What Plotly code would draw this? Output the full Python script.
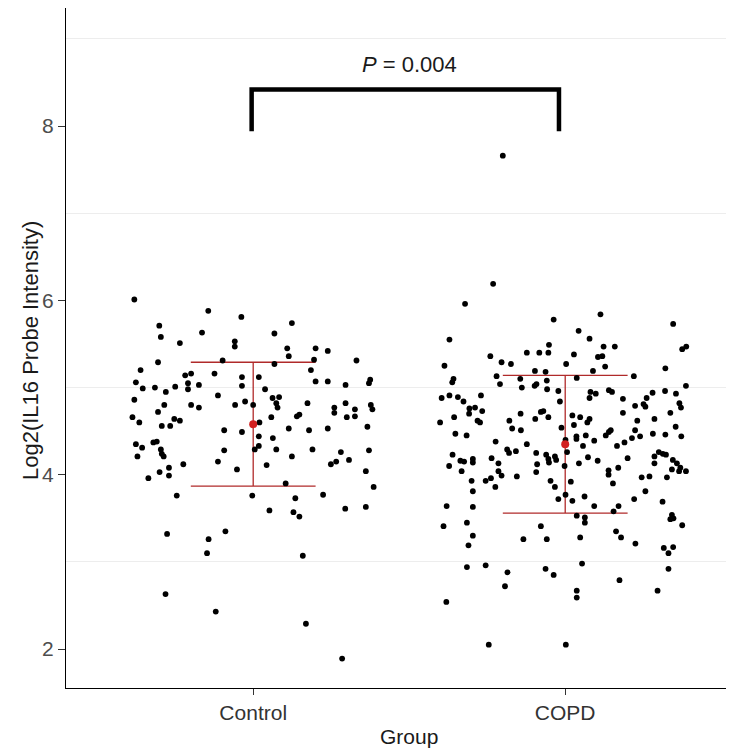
import plotly.graph_objects as go

# ---------------- data ----------------
groups = ["Control", "COPD"]

control_jitter = [-0.381,-0.144,-0.038,0.124,-0.301,0.068,-0.164,-0.296,-0.235,-0.059,
                  -0.059,0.109,0.200,0.239,0.114,0.331,-0.305,-0.098,0.195,0.068,
                  0.185,-0.361,-0.218,-0.199,-0.124,-0.036,0.018,0.200,0.239,0.375,
                  0.371,0.296,-0.376,-0.354,-0.315,-0.250,-0.209,-0.209,-0.174,-0.036,
                  0.038,-0.280,-0.113,-0.381,-0.026,-0.058,0.000,0.062,0.083,0.074,
                  0.078,0.174,0.296,0.377,0.382,-0.285,-0.199,-0.174,-0.305,0.260,
                  0.260,0.326,0.326,0.300,-0.387,-0.365,-0.253,-0.235,-0.293,-0.266,
                  0.140,0.148,0.058,0.020,0.366,-0.093,-0.036,0.114,0.179,0.239,
                  0.018,0.063,-0.376,-0.356,-0.320,-0.309,-0.296,-0.293,-0.287,-0.371,
                  -0.093,0.018,0.005,0.074,0.190,0.124,0.281,0.249,0.266,0.307,
                  0.371,-0.113,-0.052,0.043,-0.224,-0.270,-0.300,-0.270,-0.336,0.361,
                  0.386,0.104,-0.245,-0.003,0.135,0.224,0.052,0.129,0.148,0.295,
                  0.361,-0.276,-0.143,-0.089,-0.148,0.159,-0.281,-0.120,0.169,0.285]
control_values = [6.01,5.88,5.81,5.74,5.71,5.62,5.63,5.58,5.51,5.53,
                  5.47,5.45,5.45,5.42,5.36,5.31,5.29,5.31,5.32,5.27,
                  5.20,5.20,5.14,5.16,5.16,5.12,5.12,5.07,5.07,5.09,
                  5.05,5.03,5.06,4.99,5.00,5.01,5.05,4.98,5.03,5.02,
                  4.98,4.95,4.91,4.86,4.84,4.80,4.80,4.88,4.89,4.82,
                  4.77,4.82,4.82,4.80,4.75,4.80,4.80,4.77,4.72,4.77,
                  4.71,4.75,4.67,4.66,4.66,4.60,4.64,4.62,4.56,4.56,
                  4.67,4.69,4.66,4.60,4.55,4.51,4.49,4.53,4.51,4.53,
                  4.44,4.42,4.35,4.31,4.37,4.38,4.29,4.24,4.21,4.21,
                  4.28,4.33,4.29,4.29,4.29,4.21,4.26,4.12,4.15,4.17,
                  4.28,4.15,4.06,4.11,4.12,4.08,4.03,3.99,3.96,4.04,
                  3.86,3.90,3.76,3.76,3.73,3.77,3.59,3.57,3.52,3.61,
                  3.63,3.32,3.26,3.35,3.10,3.07,2.63,2.43,2.29,1.89]

copd_jitter = [-0.200,-0.231,-0.321,-0.037,0.113,0.346,0.043,0.078,-0.371,-0.052,
               0.123,0.159,0.375,0.388,-0.123,-0.083,-0.054,-0.240,-0.204,-0.174,
               -0.387,0.003,0.028,0.105,0.119,0.128,0.321,-0.097,-0.063,0.089,
               -0.358,-0.362,-0.220,-0.144,-0.059,0.037,0.220,-0.209,-0.139,-0.098,
               -0.092,-0.058,-0.022,-0.017,0.387,0.355,0.320,0.280,0.261,0.366,
               0.371,0.185,0.140,0.150,0.081,0.098,0.078,-0.396,-0.371,-0.344,
               -0.326,-0.270,-0.307,-0.289,-0.401,-0.356,-0.308,-0.266,-0.281,-0.273,
               -0.352,-0.316,-0.223,-0.179,-0.170,-0.142,-0.143,-0.096,-0.078,-0.070,
               -0.054,-0.123,-0.186,-0.180,-0.158,-0.012,0.001,0.023,0.048,0.078,
               0.071,0.028,0.036,0.036,0.066,0.057,0.093,0.006,-0.093,-0.061,
               -0.054,-0.033,-0.029,-0.052,-0.090,-0.093,-0.155,-0.002,0.073,0.104,
               0.044,-0.361,-0.372,-0.336,-0.324,-0.296,-0.296,-0.332,-0.236,-0.214,
               -0.214,-0.204,-0.255,-0.238,-0.300,-0.224,-0.296,-0.047,-0.033,0.018,
               0.001,-0.022,0.023,0.062,0.093,0.037,0.063,0.063,-0.078,0.155,
               0.171,0.221,0.257,0.312,0.342,0.347,0.337,0.375,-0.380,-0.296,
               -0.315,-0.390,0.139,0.139,0.153,0.170,0.200,0.166,0.190,0.130,
               0.140,0.146,0.214,0.240,0.224,0.231,0.185,0.224,0.251,0.257,
               0.286,0.281,0.321,0.354,0.372,0.337,0.300,0.313,0.323,0.286,
               0.286,0.345,0.358,0.342,0.369,0.387,0.365,0.326,0.270,0.245,
               -0.296,-0.310,-0.134,-0.059,0.048,0.163,0.179,0.225,0.316,0.346,
               0.331,-0.315,-0.255,-0.185,-0.193,-0.063,-0.037,0.054,0.174,0.331,
               0.296,0.037,0.037,-0.381,-0.245,0.002]
copd_values = [7.66,6.19,5.96,5.78,5.84,5.73,5.65,5.56,5.55,5.49,
               5.47,5.47,5.44,5.47,5.40,5.40,5.40,5.36,5.29,5.27,
               5.25,5.27,5.38,5.35,5.36,5.24,5.22,5.19,5.18,5.19,
               5.10,5.06,5.13,5.10,5.08,5.11,5.13,5.04,5.00,5.02,
               5.04,4.98,4.96,4.84,5.02,4.93,4.96,4.94,4.88,4.82,
               4.77,4.87,4.97,4.95,4.95,4.93,4.88,4.88,4.91,4.89,
               4.84,4.91,4.76,4.77,4.60,4.66,4.70,4.73,4.62,4.60,
               4.47,4.45,4.38,4.62,4.53,4.51,4.70,4.64,4.72,4.73,
               4.66,4.35,4.29,4.25,4.27,4.54,4.40,4.68,4.66,4.64,
               4.60,4.57,4.44,4.41,4.45,4.33,4.39,4.26,4.25,4.23,
               4.18,4.21,4.17,4.14,4.12,4.03,3.98,4.10,4.20,4.16,
               4.13,4.23,4.10,4.16,4.15,4.18,4.14,4.04,4.19,4.13,
               4.04,3.99,3.93,3.96,3.93,3.86,3.81,3.93,3.86,3.92,
               3.77,3.72,3.70,3.75,3.64,3.53,3.51,3.45,3.41,3.58,
               3.64,3.72,3.81,3.69,3.54,3.50,3.49,3.42,3.64,3.63,
               3.45,3.41,4.05,4.00,3.90,4.08,4.19,4.33,4.37,4.45,
               4.49,4.51,4.42,4.44,4.51,4.62,4.71,4.79,4.81,4.78,
               4.64,4.47,4.46,4.55,4.44,4.71,4.26,4.24,4.23,4.21,
               4.13,4.17,4.13,4.06,4.08,4.04,4.04,3.97,3.98,3.97,
               3.30,3.19,3.26,3.26,3.28,3.35,3.28,3.21,3.16,3.17,
               3.10,2.94,2.96,2.88,2.72,2.92,2.85,2.98,2.79,2.92,
               2.67,2.67,2.59,2.54,2.05,2.05]

group_means = [4.58, 4.35]
group_sds = [0.71, 0.79]

p_label = "<i>P</i> = 0.004"
bracket_x = [0.995, 1.98]
bracket_y = [7.94, 8.42]

y_ticks = [2, 4, 6, 8]
y_minor = [3, 5, 7, 9]
y_range = [1.553, 9.354]
x_range = [0.4, 2.541]

FONT = "Liberation Sans, Arial, sans-serif"

# ---------------- figure ----------------
fig = go.Figure()

cap = 0.2
ex, ey = [], []
for i, (m, s) in enumerate(zip(group_means, group_sds)):
    g = i + 1
    ex += [g - cap, g + cap, None, g, g, None, g - cap, g + cap, None]
    ey += [m + s, m + s, None, m - s, m + s, None, m - s, m - s, None]
fig.add_trace(go.Scatter(x=ex, y=ey, mode="lines",
                         line=dict(color="#b02a2a", width=1.3),
                         hoverinfo="skip", showlegend=False))

fig.add_trace(go.Scatter(x=[1 + d for d in control_jitter], y=control_values,
                         mode="markers", marker=dict(color="black", size=5.8),
                         showlegend=False))
fig.add_trace(go.Scatter(x=[2 + d for d in copd_jitter], y=copd_values,
                         mode="markers", marker=dict(color="black", size=5.8),
                         showlegend=False))

fig.add_trace(go.Scatter(x=[1, 2], y=group_means, mode="markers",
                         marker=dict(color="#d21f1f", size=8),
                         showlegend=False))

# significance bracket
fig.add_trace(go.Scatter(x=[bracket_x[0], bracket_x[0], bracket_x[1], bracket_x[1]],
                         y=[bracket_y[0], bracket_y[1], bracket_y[1], bracket_y[0]],
                         mode="lines", line=dict(color="black", width=4.5),
                         hoverinfo="skip", showlegend=False))
fig.add_annotation(x=1.5, y=8.71, text=p_label, showarrow=False,
                   font=dict(size=22, color="#1a1a1a", family=FONT),
                   xanchor="center", yanchor="middle")

# axis titles as annotations for exact placement
fig.add_annotation(x=0.513, y=-0.072, xref="paper", yref="paper",
                   text="Group", showarrow=False,
                   font=dict(size=21, color="#1a1a1a", family=FONT),
                   xanchor="center", yanchor="middle")
fig.add_annotation(x=-0.0539, y=0.497, xref="paper", yref="paper",
                   text="Log2(IL16 Probe Intensity)", showarrow=False, textangle=-90,
                   font=dict(size=22, color="#1a1a1a", family=FONT),
                   xanchor="center", yanchor="middle")

fig.update_layout(
    width=726, height=743, autosize=False,
    margin=dict(l=58, r=0, t=0, b=63),
    paper_bgcolor="white", plot_bgcolor="white",
    font=dict(family=FONT, size=20, color="#4d4d4d"),
    xaxis=dict(range=x_range, tickmode="array", tickvals=[1, 2], ticktext=groups,
               showgrid=False, zeroline=False, showline=True, linecolor="black",
               linewidth=1.2, ticks="outside", ticklen=6, tickcolor="#333333",
               tickfont=dict(size=21, color="#333333", family=FONT)),
    yaxis=dict(range=y_range, tickmode="array", tickvals=y_ticks,
               showgrid=False, zeroline=False, showline=True, linecolor="black",
               linewidth=1.2, ticks="outside", ticklen=7, tickcolor="#333333",
               tickfont=dict(size=21, color="#4d4d4d", family=FONT),
               minor=dict(tickvals=y_minor, showgrid=True, gridcolor="#ededed",
                          gridwidth=1, ticks="")),
)

fig.write_html("out.html")
